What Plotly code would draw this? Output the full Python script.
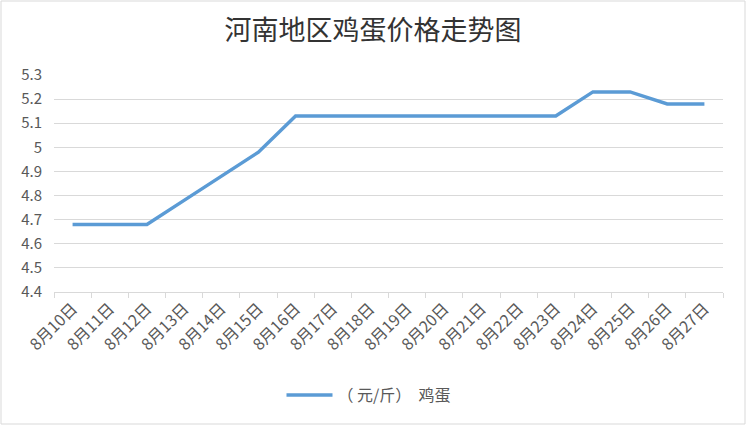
import plotly.graph_objects as go

dates = ["8月10日", "8月11日", "8月12日", "8月13日", "8月14日", "8月15日",
         "8月16日", "8月17日", "8月18日", "8月19日", "8月20日", "8月21日",
         "8月22日", "8月23日", "8月24日", "8月25日", "8月26日", "8月27日"]
prices = [4.68, 4.68, 4.68, 4.78, 4.88, 4.98,
          5.13, 5.13, 5.13, 5.13, 5.13, 5.13,
          5.13, 5.13, 5.23, 5.23, 5.18, 5.18]
series_name = "（\u00a0元/斤）\u00a0\u00a0鸡蛋"
title = "河南地区鸡蛋价格走势图"
y_ticks = [4.4, 4.5, 4.6, 4.7, 4.8, 4.9, 5, 5.1, 5.2, 5.3]

W, H = 746, 425
ML, MR, MT, MB = 54, 23, 75, 133
pw, ph = W - ML - MR, H - MT - MB

fig = go.Figure()
fig.add_trace(go.Scatter(
    x=dates, y=prices, mode="lines", name=series_name,
    line=dict(color="#5b9bd5", width=3.5),
))

fig.update_layout(
    width=W, height=H,
    margin=dict(l=ML, r=MR, t=MT, b=MB, autoexpand=False),
    paper_bgcolor="white", plot_bgcolor="white",
    font=dict(family="Noto Sans CJK SC", color="#595959", size=13),
    title=dict(text=title, x=0.5, xanchor="center", y=1 - 31 / H, yanchor="middle",
               font=dict(size=27, color="#333333", family="Noto Sans CJK SC")),
    showlegend=True,
    legend=dict(orientation="h", x=(371 - ML) / pw - 0.003, xanchor="center",
                y=(H - MB - 395) / ph, yanchor="middle", itemwidth=46,
                font=dict(size=16, color="#595959")),
    xaxis=dict(
        type="category", range=[-0.5, len(dates) - 0.5], automargin=False,
        tickangle=-45, ticks="outside", ticklen=5,
        tickcolor="#d9d9d9", tickson="boundaries", showgrid=False,
        showline=True, linecolor="#d9d9d9", linewidth=1,
        tickfont=dict(size=16, color="#595959"),
    ),
    yaxis=dict(
        range=[4.4, 5.3], tickvals=y_ticks, ticktext=[f"{v:g}" for v in y_ticks],
        automargin=False, showgrid=True, gridcolor="#d9d9d9", gridwidth=1,
        zeroline=False, showline=False, ticks="", ticklabelstandoff=11,
        tickfont=dict(size=15, color="#595959"),
    ),
)

# chart border
fig.add_shape(type="rect", xref="paper", yref="paper",
              x0=-(ML - 1) / pw, x1=1 + (MR - 1) / pw,
              y0=-(MB - 1) / ph, y1=1 + (MT - 1) / ph,
              line=dict(color="#d9d9d9", width=1))

fig.write_html("out.html", config={"displayModeBar": False},
               post_script="document.body.style.margin='0';")
